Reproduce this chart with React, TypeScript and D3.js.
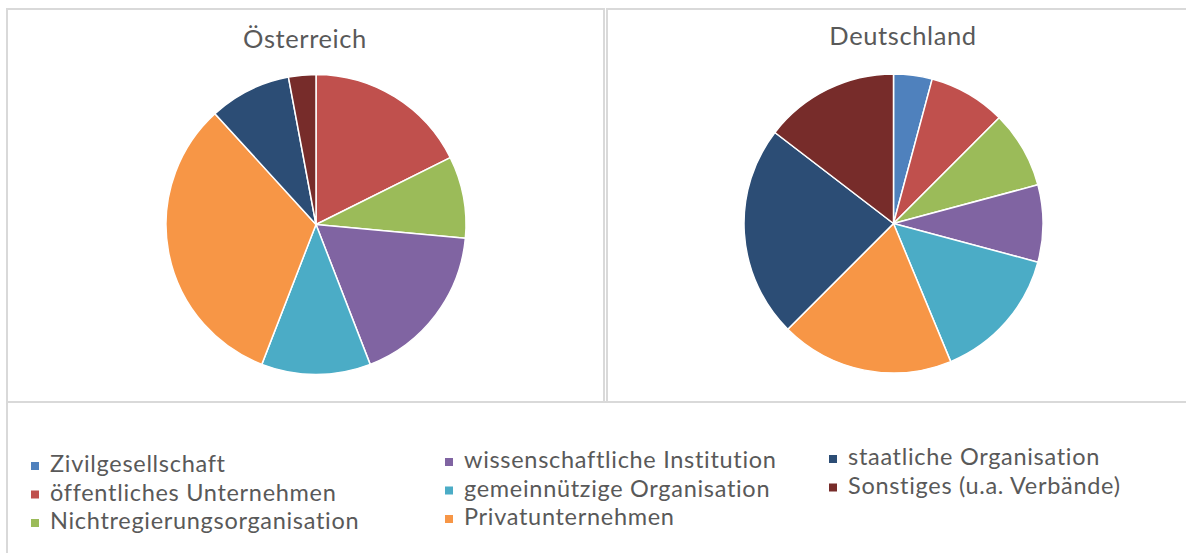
// D3.js — Organisationstypen Österreich / Deutschland (pie pair)
import React from "react";
import * as d3 from "d3";

const categories = [
  "Zivilgesellschaft",
  "öffentliches Unternehmen",
  "Nichtregierungsorganisation",
  "wissenschaftliche Institution",
  "gemeinnützige Organisation",
  "Privatunternehmen",
  "staatliche Organisation",
  "Sonstiges (u.a. Verbände)",
];
const colors = ["#4F81BD", "#C0504D", "#9BBB59", "#8064A2", "#4BACC6", "#F79646", "#2C4D75", "#772C2A"];
const austria = [0, 6, 3, 6, 4, 11, 3, 1];
const germany = [2, 4, 4, 4, 7, 9, 11, 7];
const titles = ["Österreich", "Deutschland"];

const W = 1186;
const H = 553;
const FONT = "Lato, 'Open Sans', sans-serif";
const TEXT = "#595959";
const BORDER = "#d9d9d9";

const pie = d3.pie<number>().sort(null).value(d => d);
const arc = d3.arc<d3.PieArcDatum<number>>().innerRadius(0);

const PieChart: React.FC<{ values: number[]; title: string; cx: number; cy: number; r: number; tx: number; ty: number }> =
  ({ values, title, cx, cy, r, tx, ty }) => {
    const arcs = pie(values);
    return (
      <g>
        <text x={tx} y={ty} textAnchor="middle" fontFamily={FONT} fontSize={25.5} letterSpacing={0.6} fill={TEXT}>{title}</text>
        <g transform={`translate(${cx},${cy})`}>
          {arcs.map((a, i) => a.value > 0 && (
            <path key={i} d={arc.outerRadius(r)(a) || ""} fill={colors[i]} stroke="#fff" strokeWidth={1.5} strokeLinejoin="round" />
          ))}
        </g>
      </g>
    );
  };

// legend laid out in three columns
const legendCols = [[0, 1, 2], [3, 4, 5], [6, 7]];
const colX = [31, 445, 829];
const colY = [472, 468, 465];
const rowStep = 28.5;

export default function App() {
  return (
    <svg width={W} height={H} style={{ position: "absolute", left: 0, top: 0, background: "#fff" }}>
      <rect x={0} y={0} width={W} height={H} fill="#fff" />
      {/* panels */}
      <rect x={7} y={9} width={597} height={393} fill="none" stroke={BORDER} strokeWidth={2} />
      <rect x={607} y={9} width={600} height={393} fill="none" stroke={BORDER} strokeWidth={2} />
      <rect x={7} y={402} width={1200} height={170} fill="none" stroke={BORDER} strokeWidth={2} />

      <PieChart values={austria} title={titles[0]} cx={316} cy={224.5} r={150} tx={305} ty={48} />
      <PieChart values={germany} title={titles[1]} cx={893.5} cy={223.5} r={149.5} tx={903} ty={45} />

      {legendCols.map((col, ci) => (
        <g key={ci}>
          {col.map((k, ri) => {
            const y = colY[ci] + ri * rowStep;
            return (
              <g key={k}>
                <rect x={colX[ci]} y={y - 10} width={8} height={8} fill={colors[k]} />
                <text x={colX[ci] + 19} y={y} fontFamily={FONT} fontSize={23.5} letterSpacing={0.7} fill={TEXT}>{categories[k]}</text>
              </g>
            );
          })}
        </g>
      ))}
    </svg>
  );
}
